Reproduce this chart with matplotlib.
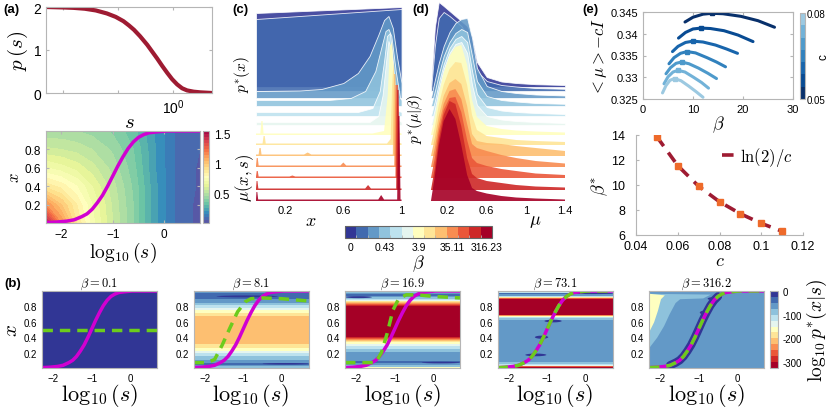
import numpy as np
import matplotlib
matplotlib.use('Agg')
import matplotlib.pyplot as plt
import matplotlib as mpl
from matplotlib.colors import ListedColormap, BoundaryNorm, Normalize
from matplotlib.patches import Ellipse

# setup plotting parameters
mpl.rcParams['font.family'] = ['Liberation Sans', 'DejaVu Sans']
mpl.rcParams['mathtext.fontset'] = 'cm'
mpl.rcParams['xtick.direction'] = 'in'
mpl.rcParams['ytick.direction'] = 'in'
mpl.rcParams['xtick.major.size'] = 2.5
mpl.rcParams['ytick.major.size'] = 2.5
mpl.rcParams['axes.edgecolor'] = '#b5b5b5'
mpl.rcParams['xtick.color'] = '#b5b5b5'
mpl.rcParams['ytick.color'] = '#b5b5b5'
mpl.rcParams['xtick.labelcolor'] = 'black'
mpl.rcParams['ytick.labelcolor'] = 'black'
mpl.rcParams['axes.linewidth'] = 0.8

W, H = 830, 410

# ---------------- data ----------------
# (a) p(s)
ps_logs = [-2.3, -2.0, -1.8, -1.6, -1.4, -1.2, -1.04, -0.9, -0.8, -0.71, -0.6, -0.47,
           -0.38, -0.29, -0.2, -0.11, -0.02, 0.07, 0.16, 0.25, 0.37, 0.49, 0.7]
ps_vals = [2.0, 1.99, 1.98, 1.96, 1.92, 1.85, 1.77, 1.67, 1.57, 1.47, 1.32, 1.12,
           0.96, 0.8, 0.63, 0.47, 0.32, 0.2, 0.11, 0.06, 0.03, 0.015, 0.0]

# (a) mu(x, s) grid
mu_logs = [-2.3, -2.0, -1.7, -1.4, -1.0, -0.6, -0.2, 0.2, 0.7]
mu_x = [0.0, 0.2, 0.4, 0.6, 0.8, 1.0]
mu_vals = [[1.5, 1.15, 0.9, 0.72, 0.55, 0.4, 0.22, 0.1, 0.03],
           [1.15, 1.0, 0.85, 0.7, 0.54, 0.4, 0.22, 0.1, 0.03],
           [0.88, 0.83, 0.75, 0.65, 0.52, 0.39, 0.22, 0.1, 0.04],
           [0.7, 0.67, 0.63, 0.57, 0.48, 0.37, 0.21, 0.1, 0.04],
           [0.56, 0.55, 0.53, 0.5, 0.44, 0.35, 0.21, 0.1, 0.05],
           [0.46, 0.46, 0.45, 0.43, 0.39, 0.32, 0.2, 0.1, 0.05]]

# optimal encoder curve x(s)
sig_s = [-2.3, -2.1, -1.9, -1.75, -1.6, -1.5, -1.4, -1.3, -1.2, -1.1, -1.0,
         -0.9, -0.8, -0.7, -0.6, -0.5, -0.4, -0.3, -0.15, 0.05, 0.3, 0.7]
sig_x = [0.005, 0.01, 0.02, 0.035, 0.07, 0.1, 0.15, 0.22, 0.3, 0.4, 0.51,
         0.62, 0.72, 0.81, 0.88, 0.93, 0.96, 0.98, 0.99, 1.0, 1.0, 1.0]

# beta levels
n_beta = 13
beta_ticklabels = ['0', '0.43', '3.9', '35.11', '316.23']
ridge_off = [11.4, 11.0, 10.3, 9.5, 8.5, 7.6, 6.6, 5.6, 4.5, 3.4, 2.3, 1.1, 0.0]

# (c) p*(x) ridges
c_ridge_x = [
    [0, 1],
    [0, 1],
    [0, 0.3, 0.45, 0.6, 0.7, 0.78, 0.84, 0.88, 0.91, 0.94, 0.97, 1.0],
    [0, 0.5, 0.65, 0.75, 0.82, 0.86, 0.89, 0.91, 0.93, 0.96, 0.99, 1.0],
    [0, 0.7, 0.8, 0.85, 0.88, 0.9, 0.92, 0.94, 0.96, 0.98, 1.0],
    [0, 0.78, 0.84, 0.87, 0.895, 0.91, 0.93, 0.95, 0.97, 1.0],
    [0, 0.03, 0.037, 0.045, 0.052, 0.8, 0.88, 0.905, 0.92, 0.935, 0.95, 0.97, 1.0],
    [0, 0.045, 0.052, 0.06, 0.067, 0.9, 0.925, 0.935, 0.945, 0.955, 0.965, 1.0],
    [0, 0.018, 0.024, 0.032, 0.038, 0.33, 0.355, 0.38, 0.94, 0.948, 0.958, 0.966, 1.0],
    [0, 0.005, 0.012, 0.018, 0.58, 0.6, 0.62, 0.95, 0.957, 0.967, 0.974, 1.0],
    [0, 0.005, 0.012, 0.018, 0.23, 0.25, 0.27, 0.958, 0.965, 0.975, 0.982, 1.0],
    [0, 0.004, 0.01, 0.016, 0.75, 0.77, 0.79, 0.963, 0.97, 0.98, 0.987, 1.0],
    [0, 0.003, 0.009, 0.015, 0.84, 0.86, 0.88, 0.97, 0.977, 0.986, 0.993, 1.0],
]
c_ridge_h = [
    [7.4, 8.0],
    [7.2, 8.2],
    [0.7, 0.75, 0.9, 1.5, 2.5, 4.2, 6.3, 7.8, 8.2, 7.0, 4.0, 1.5],
    [0.6, 0.6, 0.8, 1.5, 3.5, 5.8, 7.5, 7.7, 7.0, 3.5, 0.8, 0.6],
    [0.4, 0.4, 0.8, 2.5, 5.5, 8.0, 8.3, 5.5, 2.0, 0.5, 0.4],
    [0.3, 0.3, 0.9, 3.0, 6.5, 8.4, 7.5, 3.5, 0.6, 0.3],
    [0.15, 0.15, 1.4, 1.4, 0.15, 0.15, 0.4, 4.0, 8.8, 9.3, 5.0, 0.3, 0.15],
    [0.15, 0.15, 0.9, 0.9, 0.15, 0.15, 0.6, 6.0, 8.4, 5.0, 0.3, 0.15],
    [0.15, 0.15, 0.8, 0.8, 0.15, 0.15, 0.35, 0.15, 0.15, 8.2, 8.2, 0.15, 0.15],
    [0.15, 0.9, 0.9, 0.15, 0.15, 0.45, 0.15, 0.15, 8.2, 8.2, 0.15, 0.15],
    [0.15, 0.7, 0.7, 0.15, 0.15, 0.25, 0.15, 0.15, 9.3, 9.3, 0.15, 0.15],
    [0.15, 0.9, 0.9, 0.15, 0.15, 0.5, 0.15, 0.15, 10.0, 10.0, 0.15, 0.15],
    [0.15, 0.9, 0.9, 0.15, 0.15, 0.6, 0.15, 0.15, 8.5, 8.5, 0.15, 0.15],
]

# (d) p*(mu|beta) ridges
d_mu = [0.03, 0.07, 0.11, 0.16, 0.22, 0.28, 0.34, 0.40, 0.45, 0.5, 0.6, 0.75, 0.9, 1.1, 1.4]
d_ridge_h = [
    [0, 6.0, 8.5, 8.1, 7.6, 7.1, 6.6, 6.1, 5.0, 2.5, 1.0, 0.55, 0.4, 0.28, 0.2],
    [0, 4.5, 7.3, 7.9, 7.5, 7.0, 6.5, 5.6, 4.0, 2.0, 1.0, 0.6, 0.45, 0.3, 0.22],
    [0, 1.8, 3.5, 5.2, 6.6, 7.5, 7.9, 8.0, 6.0, 3.0, 1.2, 0.7, 0.5, 0.35, 0.25],
    [0, 1.5, 3.2, 5.0, 6.4, 7.3, 7.7, 7.4, 5.0, 2.5, 1.0, 0.6, 0.45, 0.3, 0.22],
    [0, 1.5, 3.3, 5.2, 6.8, 7.7, 8.0, 7.4, 4.5, 2.2, 0.9, 0.55, 0.4, 0.3, 0.2],
    [0, 1.6, 3.6, 5.6, 7.2, 8.1, 8.3, 7.2, 4.0, 2.0, 0.9, 0.55, 0.4, 0.3, 0.2],
    [0, 1.8, 4.0, 6.2, 7.9, 8.8, 9.0, 7.0, 3.5, 1.8, 0.9, 0.6, 0.45, 0.35, 0.25],
    [0, 1.8, 4.0, 6.0, 7.6, 8.3, 8.2, 6.0, 3.0, 1.5, 0.9, 0.7, 0.5, 0.4, 0.3],
    [0, 1.8, 4.0, 6.0, 7.3, 7.7, 7.2, 5.0, 2.2, 1.5, 1.3, 1.2, 1.0, 0.8, 0.5],
    [0, 1.9, 4.2, 6.3, 7.6, 7.8, 6.8, 4.3, 2.3, 1.9, 1.6, 1.2, 0.9, 0.6, 0.35],
    [0, 2.0, 4.6, 6.8, 8.0, 8.1, 6.6, 3.8, 2.0, 1.5, 1.2, 0.9, 0.7, 0.45, 0.3],
    [0, 2.2, 5.0, 7.5, 8.9, 8.6, 6.4, 3.2, 1.6, 1.2, 0.9, 0.7, 0.5, 0.35, 0.25],
    [0, 2.5, 5.5, 8.0, 9.2, 8.2, 5.6, 2.6, 1.3, 1.0, 0.75, 0.5, 0.35, 0.25, 0.15],
]

# (e) <mu> - cI vs beta, one curve per c
e_c = [0.05, 0.06, 0.07, 0.08, 0.09, 0.10, 0.11]
e_beta = [[8.4, 10, 12, 13.8, 16, 19.6, 23.0, 26.3],
          [7.1, 8.5, 10, 11.6, 13.5, 16.2, 19.0, 22.0],
          [5.9, 7.0, 8.5, 10.0, 12.0, 14.5, 16.7, 18.9],
          [5.2, 6.2, 7.5, 8.8, 10.5, 12.8, 14.7, 16.5],
          [4.6, 5.5, 6.6, 7.7, 9.2, 11.1, 13.0, 14.7],
          [4.2, 5.0, 6.0, 7.0, 8.4, 10.1, 11.7, 13.1],
          [3.9, 4.6, 5.4, 6.3, 7.6, 9.1, 10.6, 12.0]]
e_val = [[0.3427, 0.3438, 0.3445, 0.3447, 0.3446, 0.3440, 0.3430, 0.3415],
         [0.3390, 0.3403, 0.3411, 0.3413, 0.3412, 0.3407, 0.3397, 0.3382],
         [0.3359, 0.3371, 0.3380, 0.3383, 0.3381, 0.3374, 0.3365, 0.3355],
         [0.3331, 0.3345, 0.3355, 0.3359, 0.3356, 0.3345, 0.3335, 0.3324],
         [0.3308, 0.3322, 0.3332, 0.3335, 0.3331, 0.3321, 0.3309, 0.3297],
         [0.3285, 0.3301, 0.3312, 0.3316, 0.3312, 0.3300, 0.3288, 0.3275],
         [0.3264, 0.3281, 0.3293, 0.3297, 0.3292, 0.3280, 0.3267, 0.3254]]
e_peak_idx = [3, 3, 3, 3, 3, 3, 3]
beta_star = [13.85, 11.55, 9.9, 8.66, 7.7, 6.93, 6.3]
ln2_over_c = [13.86, 11.55, 9.90, 8.66, 7.70, 6.93, 6.30]

# (b) log10 p*(x|s) panels
b_titles = [r'$\beta = 0.1$', r'$\beta = 8.1$', r'$\beta = 16.9$', r'$\beta = 73.1$', r'$\beta = 316.2$']
b1_x = [0.0, 1.0]
b1_v = [-5, -5]
b2_x = [0, 0.03, 0.055, 0.08, 0.12, 0.18, 0.22, 0.27, 0.33, 0.5, 0.65, 0.7, 0.75, 0.8, 0.85, 0.9, 0.93, 0.96, 1.0]
b2_v = [-110, -60, -40, -60, -90, -110, -150, -185, -210, -215, -210, -185, -150, -110, -75, -45, -35, -45, -70]
b3_x = [0, 0.02, 0.05, 0.08, 0.12, 0.2, 0.25, 0.3, 0.34, 0.37, 0.4, 0.45, 0.75, 0.8, 0.83, 0.86, 0.88, 0.9, 0.93, 0.95, 0.97, 1.0]
b3_v = [-200, -90, -60, -45, -65, -70, -100, -140, -180, -230, -300, -320, -320, -300, -250, -190, -140, -95, -60, -40, -60, -130]
b4_x = [0, 0.015, 0.03, 0.05, 0.09, 0.12, 0.62, 0.65, 0.67, 0.69, 0.72, 0.88, 0.9, 0.92, 0.94, 0.97, 0.99, 1.0]
b4_v = [-320, -320, -150, -100, -70, -65, -65, -100, -170, -300, -320, -320, -280, -150, -70, -45, -150, -300]
b5_x = [0.0, 1.0]
b5_v = [-65, -65]
b5_light_x = [0.27, 0.4, 0.55, 0.7, 0.85, 0.9, 0.91, 0.96, 0.97]
b5_light_s = [-2.3, -2.1, -1.92, -1.78, -1.62, -1.5, -0.9, -0.7, -2.3]
b5_light_v = -100
b5_pale_x = [0.48, 0.6, 0.75, 0.9, 0.95, 0.97]
b5_pale_s = [-2.3, -2.18, -2.08, -2.0, -1.9, -2.3]
b5_pale_v = -165
b_profiles = [(b1_x, b1_v), (b2_x, b2_v), (b3_x, b3_v), (b4_x, b4_v), (b5_x, b5_v)]
# dark spots (panel, log10 s, x, width, height)
spot_panel = [1, 1, 2, 2, 3, 3, 3, 3, 4, 4]
spot_s = [-0.9, 0.1, -1.95, 0.2, -1.3, -1.15, -0.85, 0.2, -0.62, -0.85]
spot_x = [0.93, 0.055, 0.92, 0.07, 0.17, 0.4, 0.61, 0.97, 0.9, 0.72]
spot_w = [1.6, 1.2, 0.7, 1.0, 0.55, 0.35, 0.45, 1.0, 0.3, 0.25]
spot_h = [0.025, 0.02, 0.025, 0.02, 0.035, 0.04, 0.035, 0.02, 0.04, 0.05]
green_s = [[-2.3, 0.7],
           [-2.3, -1.95, -1.75, -1.55, -1.35, -1.15, -0.95, -0.8, -0.5, 0.0, 0.7],
           [-2.3, -1.5, -1.35, -1.2, -1.05, -0.9, -0.7, -0.4, 0.0, 0.7],
           sig_s, sig_s]
green_x = [[0.5, 0.5],
           [0.07, 0.07, 0.11, 0.3, 0.52, 0.73, 0.86, 0.9, 0.91, 0.9, 0.87],
           [0.07, 0.07, 0.2, 0.45, 0.75, 0.9, 0.95, 0.95, 0.93, 0.91],
           sig_x, sig_x]

# ---------------- helpers ----------------
def box(l, t, r, b):
    return [l / W, 1 - b / H, (r - l) / W, (b - t) / H]

magenta = '#d100d1'
green = '#6ccc1c'
darkred = '#9e1b32'
ridge_cols = plt.cm.RdYlBu_r(np.linspace(0, 1, n_beta))
b_cmap = ListedColormap(plt.cm.RdYlBu(np.linspace(0, 1, 13)))
b_levels = np.linspace(-325, 0, 14)
b_norm = Normalize(-325, 0)

fig = plt.figure(figsize=(W / 100, H / 100), dpi=100)

# ---------------- (a) top ----------------
ax = fig.add_axes(box(46, 8, 212, 94))
ax.semilogx(10 ** np.array(ps_logs), ps_vals, color=darkred, lw=3, solid_capstyle='butt')
ax.set_xlim(10 ** -2.3, 10 ** 0.7)
ax.set_ylim(0, 2)
ax.set_xticks([0.01, 0.1, 1])
ax.set_xticklabels(['', '', r'$\mathregular{10^0}$'], fontsize=10)
ax.xaxis.set_minor_locator(mpl.ticker.NullLocator())
ax.set_yticks([0, 1, 2])
ax.tick_params(labelsize=10, top=True, right=True)
ax.set_xlabel(r'$s$', fontsize=15, labelpad=-3)
ax.set_ylabel(r'$p\,(s)$', fontsize=15, labelpad=2)

# ---------------- (a) bottom ----------------
ax = fig.add_axes(box(46, 132, 200, 224))
cf = ax.contourf(mu_logs, mu_x, np.array(mu_vals), levels=np.linspace(0, 1.55, 32), cmap='Spectral_r')
ax.plot(sig_s, sig_x, color=magenta, lw=2.5)
ax.set_xlim(-2.3, 0.7)
ax.set_ylim(0, 1)
ax.set_xticks([-2, -1, 0])
ax.set_yticks([0.2, 0.4, 0.6, 0.8])
ax.tick_params(labelsize=8.5, top=True, right=True)
ax.set_xlabel(r'$\log_{10}(s)$', fontsize=14, labelpad=0)
ax.set_ylabel(r'$x$', fontsize=12, labelpad=2)
cax = fig.add_axes(box(203, 132, 209, 224))
cb = fig.colorbar(cf, cax=cax, ticks=[0.5, 1, 1.5])
cb.ax.set_yticklabels(['0.5', '1', '1.5'])
cb.ax.tick_params(labelsize=8.5, length=0)
cb.outline.set_edgecolor('#b5b5b5')
cb.set_label(r'$\mu(x,s)$', fontsize=12, labelpad=2)

# ---------------- (c) ridges ----------------
def draw_ridges(ax, xs, hs):
    for i in range(n_beta):
        x = np.array(xs[i])
        h = np.array(hs[i])
        if i < 6:
            ax.fill_between(x, ridge_off[i], ridge_off[i] + h, facecolor=ridge_cols[i],
                            alpha=0.88, edgecolor='white', lw=0.6, zorder=i + 1)
        else:
            ax.fill_between(x, ridge_off[i], ridge_off[i] + h, facecolor=ridge_cols[i],
                            alpha=0.9, lw=0, zorder=i + 1)

ax = fig.add_axes(box(256, 8, 403, 203))
draw_ridges(ax, c_ridge_x, c_ridge_h)
ax.set_xlim(0, 1.01)
ax.set_ylim(-0.1, 19.4)
for sp in ax.spines.values():
    sp.set_visible(False)
ax.set_yticks([])
ax.set_xticks([0.2, 0.6, 1])
ax.set_xticklabels(['0.2', '0.6', '1'])
ax.tick_params(length=0, labelsize=8, pad=2)
ax.set_xlabel(r'$x$', fontsize=13)
ax.xaxis.set_label_coords(0.37, -0.05)
ax.set_ylabel(r'$p^{*}(x)$', fontsize=11, labelpad=1)
ax.yaxis.set_label_coords(-0.025, 0.66)

# ---------------- (d) ridges ----------------
ax = fig.add_axes(box(428, 3, 565, 203))
draw_ridges(ax, [d_mu] * n_beta, d_ridge_h)
ax.set_xlim(0, 1.4)
ax.set_ylim(-0.1, 19.9)
for sp in ax.spines.values():
    sp.set_visible(False)
ax.set_yticks([])
ax.set_xticks([0.2, 0.6, 1, 1.4])
ax.set_xticklabels(['0.2', '0.6', '1', '1.4'])
ax.tick_params(length=0, labelsize=8, pad=2)
ax.set_xlabel(r'$\mu$', fontsize=13)
ax.xaxis.set_label_coords(0.78, -0.05)
ax.set_ylabel(r'$p^{*}(\mu|\beta)$', fontsize=11, labelpad=1)
ax.yaxis.set_label_coords(-0.02, 0.42)

# beta colorbar
cax = fig.add_axes(box(345, 227, 492, 239))
sm = mpl.cm.ScalarMappable(norm=BoundaryNorm(np.arange(n_beta + 1), n_beta),
                           cmap=ListedColormap(ridge_cols))
cb = fig.colorbar(sm, cax=cax, orientation='horizontal')
cb.set_ticks([0.5, 3.5, 6.5, 9.5, 12.5])
cb.set_ticklabels(beta_ticklabels)
cb.ax.tick_params(labelsize=7.5, length=0, pad=3)
cb.outline.set_edgecolor('#666666')
cb.set_label(r'$\beta$', fontsize=13, labelpad=0)

# ---------------- (e) top ----------------
e_cols = plt.cm.Blues(np.linspace(1.0, 0.38, len(e_c)))
ax = fig.add_axes(box(643, 13, 793, 100))
for k in range(len(e_c)):
    ax.plot(e_beta[k], e_val[k], color=e_cols[k], lw=2.2, solid_capstyle='round')
    j = e_peak_idx[k]
    ax.plot(e_beta[k][j], e_val[k][j], 's', color=e_cols[k], ms=3.5)
ax.set_xlim(0, 30)
ax.set_ylim(0.325, 0.345)
ax.set_xticks([0, 10, 20, 30])
ax.set_yticks([0.325, 0.33, 0.335, 0.34, 0.345])
ax.set_yticklabels(['0.325', '0.33', '0.335', '0.34', '0.345'])
ax.tick_params(labelsize=8, top=True, right=True)
ax.set_xlabel(r'$\beta$', fontsize=13, labelpad=0)
ax.set_ylabel(r'$<\mu>-cI$', fontsize=12, labelpad=1)
cax = fig.add_axes(box(800, 14, 805, 100))
sm = mpl.cm.ScalarMappable(norm=Normalize(0.05, 0.08), cmap=ListedColormap(e_cols))
cb = fig.colorbar(sm, cax=cax, ticks=[0.05, 0.08])
cb.ax.set_yticklabels(['0.05', '0.08'])
cb.ax.tick_params(labelsize=7, length=0, pad=1)
cb.outline.set_edgecolor('#b5b5b5')
fig.text(823 / W, 1 - 57 / H, 'c', rotation=90, ha='center', va='center', fontsize=8.5)

# ---------------- (e) bottom ----------------
ax = fig.add_axes(box(636, 136, 803, 236))
ax.plot(e_c, ln2_over_c, '--', color=darkred, lw=2.6, dashes=(3.2, 2.2), label=r'$\ln(2)/c$')
ax.plot(e_c, beta_star, 's', color='#ee6a2a', ms=4, zorder=3)
ax.set_xlim(0.04, 0.12)
ax.set_ylim(6, 14)
ax.set_xticks([0.04, 0.06, 0.08, 0.1, 0.12])
ax.set_xticklabels(['0.04', '0.06', '0.08', '0.1', '0.12'])
ax.set_yticks([6, 8, 10, 12, 14])
ax.spines['top'].set_visible(False)
ax.spines['right'].set_visible(False)
ax.tick_params(labelsize=9)
ax.tick_params(axis='y', pad=8)
ax.set_xlabel(r'$c$', fontsize=13, labelpad=0)
ax.set_ylabel(r'$\beta^{*}$', fontsize=13, labelpad=1)
ax.legend(loc='upper right', frameon=False, fontsize=12, handlelength=0.8,
          handletextpad=0.3, borderaxespad=0.2)

# ---------------- (b) panels ----------------
b_lefts = [42, 193.5, 345, 497.5, 649]
for k in range(5):
    l = b_lefts[k]
    ax = fig.add_axes(box(l, 292, l + 115, 369))
    px, pv = b_profiles[k]
    ax.contourf([-2.3, 0.7], px, np.column_stack([pv, pv]), levels=b_levels, cmap=b_cmap, norm=b_norm)
    if k == 4:
        ax.fill_betweenx(b5_light_x, -2.3, b5_light_s, color=b_cmap(b_norm(b5_light_v)), lw=0)
        ax.fill_betweenx(b5_pale_x, -2.3, b5_pale_s, color=b_cmap(b_norm(b5_pale_v)), lw=0)
        ax.plot(sig_s[3:16], sig_x[3:16], color=b_cmap(0.99), lw=6, solid_capstyle='round')
    for p, s0, x0, w0, h0 in zip(spot_panel, spot_s, spot_x, spot_w, spot_h):
        if p == k:
            ax.add_patch(Ellipse((s0, x0), w0, h0, facecolor=b_cmap(0.99), edgecolor='none'))
    ax.plot(sig_s, sig_x, color=magenta, lw=2.5)
    ax.plot(green_s[k], green_x[k], '--', color=green, lw=2.5, dashes=(3, 2))
    ax.set_xlim(-2.3, 0.7)
    ax.set_ylim(0, 1)
    ax.set_xticks([-2, -1, 0])
    ax.set_yticks([0.2, 0.4, 0.6, 0.8])
    ax.tick_params(labelsize=7, length=0)
    ax.set_title(b_titles[k], fontsize=9, pad=2)
    ax.set_xlabel(r'$\log_{10}(s)$', fontsize=16, labelpad=-1)
    if k == 0:
        ax.set_ylabel(r'$x$', fontsize=15, labelpad=2)

cax = fig.add_axes(box(770, 292, 778, 369))
sm = mpl.cm.ScalarMappable(norm=b_norm, cmap=b_cmap)
cb = fig.colorbar(sm, cax=cax, ticks=[0, -100, -200, -300])
cb.ax.set_yticklabels(['0', '-100', '-200', '-300'])
cb.ax.tick_params(labelsize=7, length=0)
cb.outline.set_edgecolor('#b5b5b5')
cb.set_label(r'$\log_{10}p^{*}(x|s)$', fontsize=14, labelpad=2)

# panel letters
for lab, px_, py_ in [('(a)', 3, 4), ('(c)', 232, 4), ('(d)', 412, 4), ('(e)', 582, 4), ('(b)', 4, 278)]:
    fig.text(px_ / W, 1 - py_ / H, lab, fontsize=9.5, fontweight='bold', va='top', ha='left')

fig.savefig('out.png', dpi=100)
